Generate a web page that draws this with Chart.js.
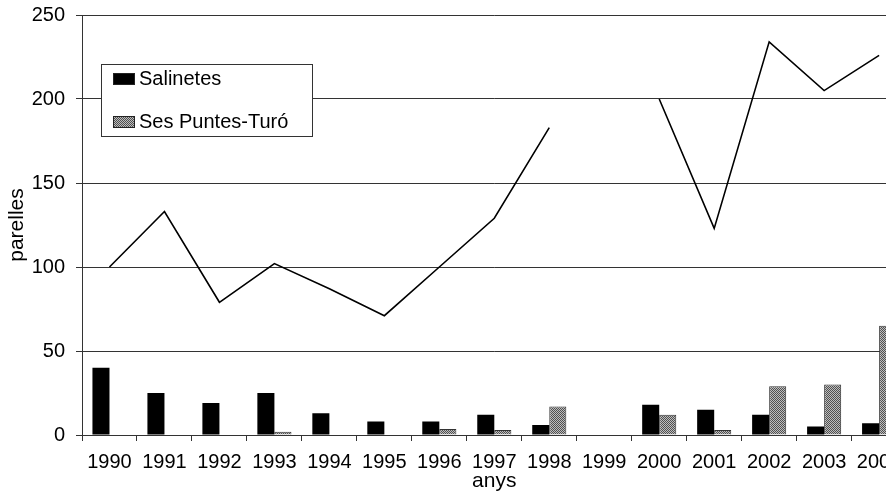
<!DOCTYPE html>
<html>
<head>
<meta charset="utf-8">
<script src="https://cdn.jsdelivr.net/npm/chart.js@4"></script>
<style>
  html, body { margin: 0; padding: 0; background: #fff; overflow: hidden; }
  #wrap { position: absolute; left: 0; top: 0; width: 886px; height: 498px; overflow: hidden; }
  #box { position: absolute; left: 0; top: 0; width: 910px; height: 498px; }
</style>
</head>
<body>
<div id="wrap"><div id="box"><canvas id="c"></canvas></div></div>
<script>
const years = ['1990','1991','1992','1993','1994','1995','1996','1997','1998','1999','2000','2001','2002','2003','2004'];
const salinetes = [40, 25, 19, 25, 13, 8, 8, 12, 6, 0, 18, 15, 12, 5, 7];
const sesPuntes = [0, 0, 0, 2, 0, 0, 3.5, 3, 17, 0, 12, 3, 29, 30, 65];
const totalLine = [100, 133, 79, 102, 87, 71, 100, 129, 183, null, 200, 123, 234, 205, 226];
const yTicks = [0, 50, 100, 150, 200, 250];

const FONT = "'Liberation Sans', Arial, sans-serif";

function makePattern() {
  const p = document.createElement('canvas');
  p.width = 2; p.height = 2;
  const g = p.getContext('2d');
  g.fillStyle = '#bdbdbd'; g.fillRect(0, 0, 2, 2);
  g.fillStyle = '#505050'; g.fillRect(0, 0, 1, 1); g.fillRect(1, 1, 1, 1);
  return g.createPattern(p, 'repeat');
}
const grayPattern = makePattern();

const legendPlugin = {
  id: 'boxLegend',
  afterDraw(chart) {
    const ctx = chart.ctx;
    ctx.save();
    const x0 = 101.5, y0 = 64.5, w = 211, h = 72;
    ctx.fillStyle = '#fff';
    ctx.fillRect(x0, y0, w, h);
    ctx.strokeStyle = '#333';
    ctx.lineWidth = 1;
    ctx.strokeRect(x0, y0, w, h);
    const items = chart.data.datasets.filter(d => d.type !== 'line');
    const rows = [79, 122];
    items.forEach((ds, i) => {
      const cy = rows[i];
      ctx.fillStyle = ds.backgroundColor;
      ctx.fillRect(113, cy - 5, 21, 10);
      ctx.strokeStyle = '#222';
      ctx.strokeRect(113.5, cy - 5.5, 21, 11);
      ctx.fillStyle = '#000';
      ctx.font = '20px ' + FONT;
      ctx.textBaseline = 'middle';
      ctx.textAlign = 'left';
      ctx.fillText(ds.label, 139, cy);
    });
    ctx.restore();
  }
};

new Chart(document.getElementById('c'), {
  type: 'bar',
  data: {
    labels: years,
    datasets: [
      {
        type: 'line',
        label: 'total',
        data: totalLine,
        borderColor: '#000',
        borderWidth: 1.6,
        pointRadius: 0,
        spanGaps: false,
        tension: 0,
        fill: false,
        order: 0
      },
      {
        label: 'Salinetes',
        data: salinetes,
        backgroundColor: '#000',
        borderColor: '#000',
        borderWidth: 0,
        categoryPercentage: 0.62,
        barPercentage: 1.0,
        order: 1
      },
      {
        label: 'Ses Puntes-Turó',
        data: sesPuntes,
        backgroundColor: grayPattern,
        borderColor: '#333',
        borderWidth: 1,
        categoryPercentage: 0.62,
        barPercentage: 1.0,
        order: 1
      }
    ]
  },
  options: {
    responsive: true,
    maintainAspectRatio: false,
    animation: false,
    devicePixelRatio: 1,
    layout: { padding: { left: 0, right: 3.4, top: 15, bottom: 0 } },
    plugins: {
      legend: { display: false },
      tooltip: { enabled: false }
    },
    scales: {
      x: {
        grid: { display: true, drawOnChartArea: false, drawTicks: true, tickLength: 6, color: '#333', offset: true },
        border: { display: true, color: '#333', width: 1 },
        ticks: { color: '#000', font: { family: FONT, size: 20 }, padding: 9, maxRotation: 0, autoSkip: false },
        title: { display: true, text: 'anys', color: '#000', font: { family: FONT, size: 21 }, padding: { top: 0, bottom: 4 } },
        afterFit(scale) { scale.height = 63; scale.paddingLeft = 0; scale.paddingRight = 0; }
      },
      y: {
        min: 0, max: 250,
        afterBuildTicks(scale) { scale.ticks = yTicks.map(v => ({ value: v })); },
        grid: { color: '#333', lineWidth: 1, tickLength: 6, drawTicks: true },
        border: { display: true, color: '#333', width: 1 },
        ticks: { color: '#000', font: { family: FONT, size: 20 }, padding: 11 },
        title: { display: true, text: 'parelles', color: '#000', font: { family: FONT, size: 21 }, padding: { top: 5, bottom: 0 } },
        afterFit(scale) { scale.width = 82; scale.paddingTop = 0; scale.paddingBottom = 0; }
      }
    }
  },
  plugins: [legendPlugin]
});
</script>
</body>
</html>
